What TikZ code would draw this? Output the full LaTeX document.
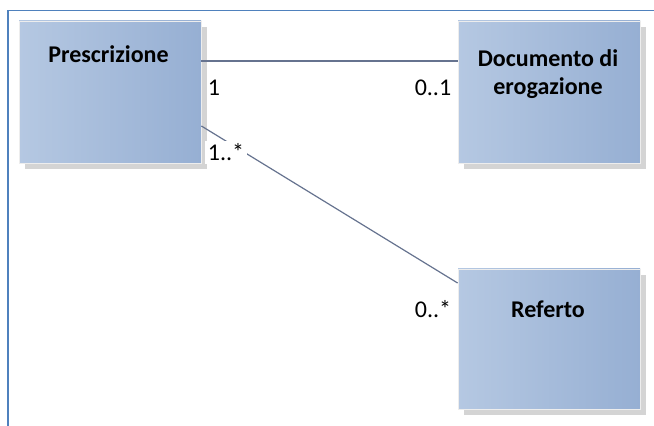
\documentclass[tikz,border=0pt]{standalone}
\usepackage{fontspec}
\setmainfont{Carlito}
\usetikzlibrary{shadows}
\definecolor{boxleft}{HTML}{B5C8E2}
\definecolor{boxright}{HTML}{96AFD3}
\definecolor{linkcol}{HTML}{66738F}
\definecolor{framecol}{HTML}{4F81BD}

\begin{document}
\begin{tikzpicture}[x=1pt, y=1pt, font=\fontsize{24}{27.5}\selectfont,
    classbox/.style={rectangle, draw=black!7, line width=0.8pt,
      minimum width=182pt, minimum height=142pt,
      left color=boxleft, right color=boxright,
      general shadow={fill=black!17, draw=none, shadow xshift=6pt, shadow yshift=-6pt}},
    classname/.style={font=\fontsize{24}{27.5}\selectfont\bfseries, align=center},
    mult/.style={inner sep=3pt},
    link/.style={draw=linkcol, line width=1.2pt}]
  \useasboundingbox (0,0) rectangle (654,426);
  %%% frame %%%
  \draw[framecol, line width=1.5pt] (8,0) -- (8,415.5) -- (654,415.5);

  %%% classes %%%
  \node[classbox] (presc) at (110,334) {};
  \node[classbox] (doc) at (549,334) {};
  \node[classbox, minimum height=140pt] (ref) at (549,87) {};
  % names
  \node[classname, anchor=base] (prescname) at (108.5,363) {Prescrizione};
  \node[classname] (docname) at (548,352) {Documento di\\erogazione};
  \node[classname, anchor=base] (refname) at (548,108) {Referto};

  %%% associations %%%
  \draw[link] ([yshift=31pt]presc.east) -- ([yshift=31pt]doc.west);
  \draw[link] ([yshift=-34pt]presc.east) -- ([yshift=56pt]ref.west);
  % multiplicities
  \node[mult, anchor=base] (mpd) at (214,330) {1};
  \node[mult, anchor=base] (mdp) at (433,330) {0..1};
  \node[mult, anchor=base, fill=white] (mpr) at (226,265) {1..*};
  \node[mult, anchor=base] (mrp) at (433,108) {0..*};
\end{tikzpicture}
\end{document}
